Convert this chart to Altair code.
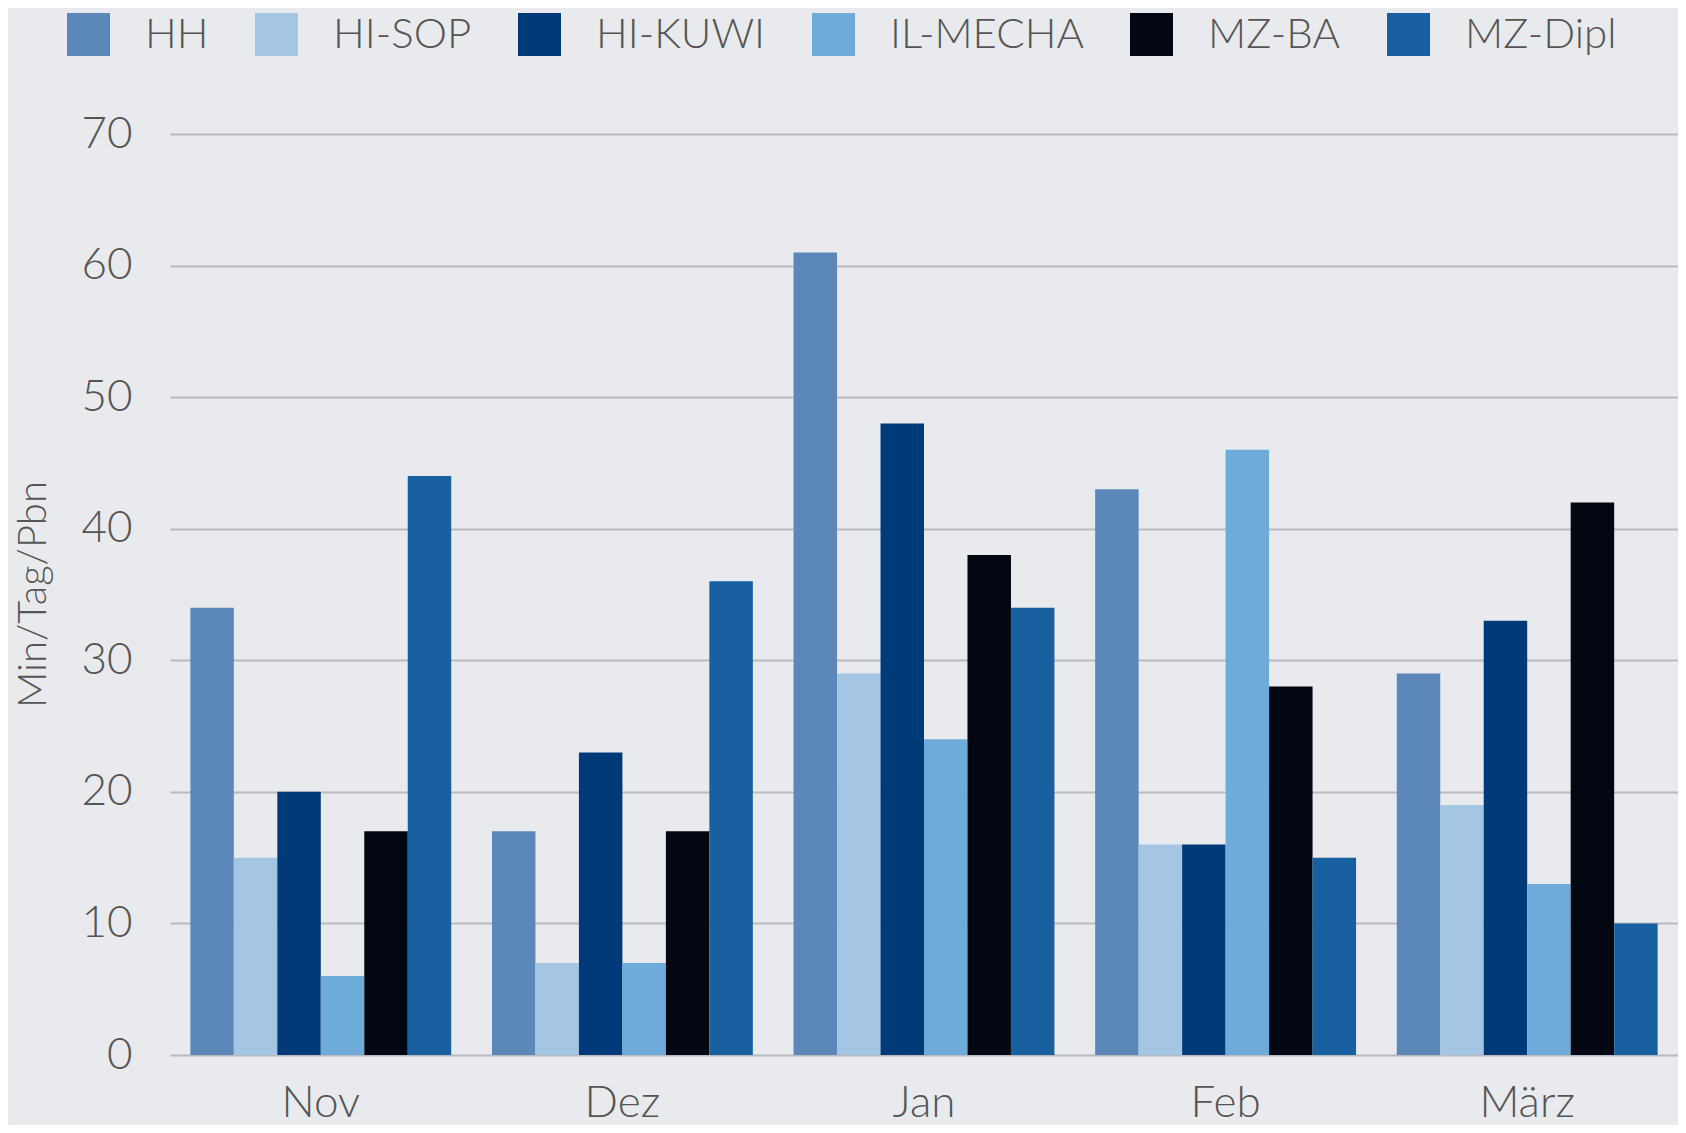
import altair as alt
import pandas as pd

months = ["Nov", "Dez", "Jan", "Feb", "März"]
series = ["HH", "HI-SOP", "HI-KUWI", "IL-MECHA", "MZ-BA", "MZ-Dipl"]
colors = ["#5b88b9", "#a5c6e2", "#003a78", "#6eabdb", "#020712", "#1860a0"]

hh = [34, 17, 61, 43, 29]
hi_sop = [15, 7, 29, 16, 19]
hi_kuwi = [20, 23, 48, 16, 33]
il_mecha = [6, 7, 24, 46, 13]
mz_ba = [17, 17, 38, 28, 42]
mz_dipl = [44, 36, 34, 15, 10]

values = [hh, hi_sop, hi_kuwi, il_mecha, mz_ba, mz_dipl]
rows = []
for s, vals in zip(series, values):
    for m, v in zip(months, vals):
        rows.append({"Monat": m, "Serie": s, "Wert": v})
df = pd.DataFrame(rows)

FONT = "Lato"
TXT = "#555555"

chart = alt.Chart(df).mark_bar().encode(
    x=alt.X("Monat:N", sort=months,
            scale=alt.Scale(paddingInner=0.135, paddingOuter=0.0675),
            axis=alt.Axis(title=None, labelAngle=0, domain=False, ticks=False,
                          labelPadding=26, labelFontSize=44, labelFont=FONT,
                          labelFontWeight=300, labelColor=TXT, grid=False)),
    xOffset=alt.XOffset("Serie:N", sort=series, scale=alt.Scale(paddingInner=0, paddingOuter=0)),
    y=alt.Y("Wert:Q", scale=alt.Scale(domain=[0, 70], nice=False),
            axis=alt.Axis(title="Min/Tag/Pbn", values=[0, 10, 20, 30, 40, 50, 60, 70],
                          domain=False, ticks=False, labelPadding=38,
                          labelFontSize=44, labelFont=FONT, labelFontWeight=300,
                          labelColor=TXT, grid=True, gridColor="#b9babd", gridWidth=2,
                          titleFont=FONT, titleFontWeight=300, titleFontSize=40,
                          titleColor=TXT, titleAngle=-90, titleAlign="center",
                          titleBaseline="middle", titleX=-137, titleY=460)),
    color=alt.Color("Serie:N", sort=series,
                    scale=alt.Scale(domain=series, range=colors),
                    legend=alt.Legend(title=None, orient="none", direction="horizontal",
                                      legendX=-103, legendY=-121, padding=0,
                                      symbolType="square", symbolSize=1849,
                                      symbolStrokeWidth=0, symbolOpacity=1,
                                      labelFontSize=42, labelFont=FONT,
                                      labelFontWeight=300, labelColor=TXT,
                                      labelOffset=35, columnPadding=46,
                                      labelLimit=400)),
).properties(
    width=1508,
    height=921,
    autosize=alt.AutoSizeParams(type="none"),
    padding={"left": 162, "top": 126, "right": 0, "bottom": 70},
    background="#e8eaee",
).configure_view(stroke=None)

chart.save("out.html", embed_options={"renderer": "svg", "actions": False})
